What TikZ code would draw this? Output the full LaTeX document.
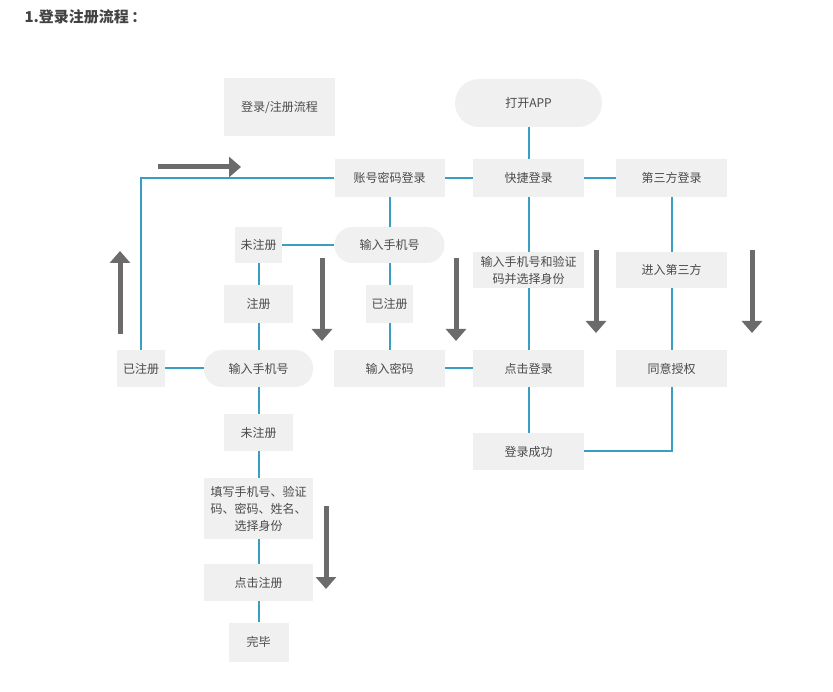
\documentclass[tikz,border=0pt]{standalone}
\usepackage{fontspec}
\setmainfont{Noto Sans CJK SC}
\usetikzlibrary{arrows.meta}
\definecolor{boxfill}{HTML}{F0F0F0}
\definecolor{txt}{HTML}{4A4A4A}
\definecolor{conn}{HTML}{3A9EC2}
\definecolor{bigarrow}{HTML}{6B6B6B}
\tikzset{
  box/.style={fill=boxfill, draw=none, text=txt, font=\fontsize{12}{17}\selectfont,
    inner sep=0pt, align=center, minimum width=#1},
  box/.default=110,
  pill/.style={box=#1, rounded corners=18},
  pill/.default=110,
  link/.style={draw=conn, line width=2},
  flowarrow/.style={draw=bigarrow, line width=5,
    -{Triangle[width=20,length=12]}}
}
\begin{document}
\begin{tikzpicture}[x=1pt,y=-1pt]
\useasboundingbox (0,0) rectangle (833,692);
\fill[white] (0,0) rectangle (833,692);
% title
\node[anchor=west, text=txt!90!black, font=\fontsize{15}{18}\selectfont\bfseries] (title) at (21,17) {1.登录注册流程\,：};
% nodes
\node[box=111, minimum height=58] (legend) at (279.5,107.5) {登录/注册流程};
\node[pill=147, minimum height=48, rounded corners=24] (open) at (528.5,103) {打开APP};
\node[box=111, minimum height=38] (quick) at (528.5,178) {快捷登录};
\node[box=111, minimum height=38] (third) at (671.5,178) {第三方登录};
\node[box=110, minimum height=38] (acct) at (389.5,178) {账号密码登录};
\node[pill=110, minimum height=36] (phoneA) at (389.5,245) {输入手机号};
\node[box=47, minimum height=36] (unregA) at (258.5,245) {未注册};
\node[box=111, minimum height=36] (verify) at (528.5,270) {输入手机号和验证\\码并选择身份};
\node[box=111, minimum height=36] (enter3) at (671.5,270) {进入第三方};
\node[box=69, minimum height=38] (reg) at (258.5,304) {注册};
\node[box=47, minimum height=38] (regdA) at (389.5,304) {已注册};
\node[box=48, minimum height=37] (regdB) at (141,368.5) {已注册};
\node[pill=109, minimum height=37] (phoneB) at (258.5,368.5) {输入手机号};
\node[box=111, minimum height=37] (pwd) at (389.5,368.5) {输入密码};
\node[box=111, minimum height=37] (clicklogin) at (528.5,368.5) {点击登录};
\node[box=111, minimum height=37] (agree) at (671.5,368.5) {同意授权};
\node[box=69, minimum height=37] (unregB) at (258.5,432.5) {未注册};
\node[box=111, minimum height=37] (success) at (528.5,451.5) {登录成功};
\node[box=109, minimum height=61] (fill) at (258.5,508.5) {填写手机号、验证\\码、密码、姓名、\\选择身份};
\node[box=109, minimum height=37] (clickreg) at (258.5,582.5) {点击注册};
\node[box=60, minimum height=39] (done) at (258.5,642) {完毕};
% connectors
\path[link] (open) -- (quick);
\path[link] (acct) -- (quick);
\path[link] (quick) -- (third);
\path[link] (acct.west) -| (regdB.north);
\path[link] (acct) -- (phoneA);
\path[link] (unregA) -- (phoneA);
\path[link] (phoneA) -- (regdA);
\path[link] (regdA) -- (pwd);
\path[link] (pwd) -- (clicklogin);
\path[link] (unregA) -- (reg);
\path[link] (reg) -- (phoneB);
\path[link] (regdB) -- (phoneB);
\path[link] (phoneB) -- (unregB);
\path[link] (unregB) -- (fill);
\path[link] (fill) -- (clickreg);
\path[link] (clickreg) -- (done);
\path[link] (quick) -- (verify);
\path[link] (verify) -- (clicklogin);
\path[link] (clicklogin) -- (success);
\path[link] (third) -- (enter3);
\path[link] (enter3) -- (agree);
\path[link] (agree.south) |- (success.east);
% big direction arrows
\coordinate (r1) at (158,167); \coordinate (r2) at (241,167);
\coordinate (u1) at (120,334); \coordinate (u2) at (120,251);
\coordinate (d1a) at (322,258); \coordinate (d1b) at (322,341);
\coordinate (d2a) at (456,258); \coordinate (d2b) at (456,341);
\coordinate (d3a) at (596,250); \coordinate (d3b) at (596,333);
\coordinate (d4a) at (752,250); \coordinate (d4b) at (752,333);
\coordinate (d5a) at (326,506); \coordinate (d5b) at (326,589);
\path[flowarrow] (r1) -- (r2);
\path[flowarrow] (u1) -- (u2);
\path[flowarrow] (d1a) -- (d1b);
\path[flowarrow] (d2a) -- (d2b);
\path[flowarrow] (d3a) -- (d3b);
\path[flowarrow] (d4a) -- (d4b);
\path[flowarrow] (d5a) -- (d5b);
\end{tikzpicture}
\end{document}
